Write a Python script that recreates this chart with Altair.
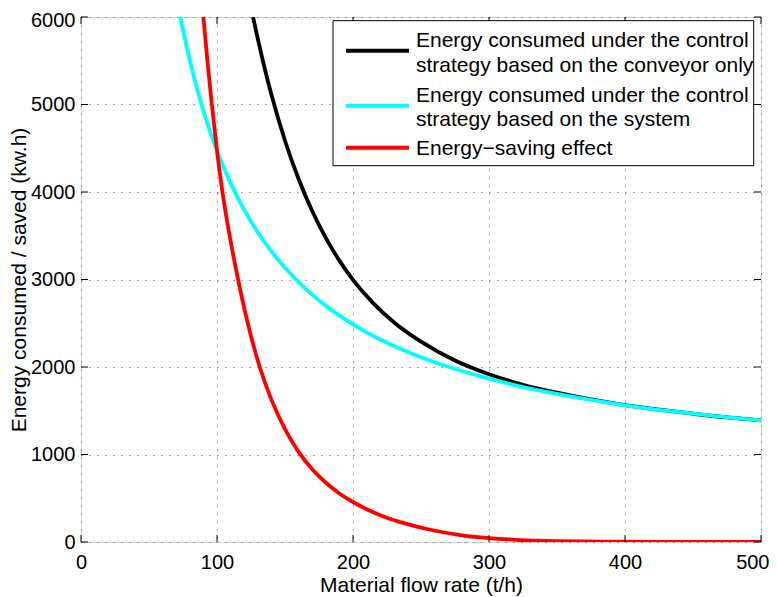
import altair as alt
import pandas as pd

# ---- data ----
x_ticks = [0, 100, 200, 300, 400, 500]
y_ticks = [0, 1000, 2000, 3000, 4000, 5000, 6000]

conv_x = [126.5, 130, 135, 140, 150, 160, 170, 180, 190, 200, 215, 230, 250,
          275, 300, 325, 350, 375, 400, 425, 450, 475, 500]
conv_y = [6000, 5750, 5417, 5113, 4586, 4149, 3783, 3475, 3216, 2996, 2727, 2512, 2290,
          2075, 1918, 1797, 1706, 1630, 1565, 1512, 1466, 1424, 1390]

sys_x = [73, 80, 90, 100, 110, 120, 130, 140, 150, 165, 180, 200, 225, 250,
         275, 300, 325, 350, 375, 400, 425, 450, 475, 500]
sys_y = [6000, 5504, 4926, 4470, 4101, 3795, 3539, 3321, 3133, 2896, 2701, 2488, 2277, 2112,
         1977, 1867, 1771, 1693, 1623, 1562, 1511, 1466, 1424, 1390]

save_x = [90, 93, 96, 100, 104, 110, 115.5, 122, 131.4, 140, 150, 160, 170, 180, 190, 200,
          210, 220, 240, 256, 280, 300, 320, 350, 400, 450, 500]
save_y = [6000, 5490, 5030, 4470, 4000, 3440, 3000, 2540, 2000, 1627, 1290, 1030, 831, 677, 555, 457,
          375, 307, 204, 143, 77, 45, 25, 10, 3, 1, 0]

legend_lines = [["Energy consumed under the control", "strategy based on the conveyor only"],
                ["Energy consumed under the control", "strategy based on the system"],
                ["Energy\u2212saving effect"]]
colors = ["#000000", "#00FFFF", "#FF0000"]

# ---- layout ----
W, H = 680, 525
FONT = "Liberation Sans"
FS = 20
FT = 21

xs = alt.Scale(domain=[0, 500], nice=False, zero=False)
ys = alt.Scale(domain=[0, 6000], nice=False, zero=False)

grid_kw = dict(grid=True, gridDash=[1, 7], gridColor="#444444", gridWidth=1,
               ticks=False, tickSize=0, domain=False, labelFlush=False,
               labelFont=FONT, labelFontSize=FS, labelColor="#000000",
               titleFont=FONT, titleFontSize=FT, titleColor="#000000", titleFontWeight="normal")

xaxis = alt.Axis(values=x_ticks, format="d", title="Material flow rate (t/h)",
                 labelBaseline="alphabetic", labelPadding=26,
                 labelAlign={"condition": {"test": "datum.value === 500", "value": "right"}, "value": "center"},
                 labelOffset={"condition": {"test": "datum.value === 500", "value": 8}, "value": 0},
                 titleBaseline="alphabetic", titleY=49, **grid_kw)
yaxis = alt.Axis(values=y_ticks, format="d", title="Energy consumed / saved (kw.h)",
                 labelPadding=6,
                 labelOffset={"condition": {"test": "datum.value === 6000", "value": 3}, "value": 0},
                 titleX=-62, titleY=H / 2, titleBaseline="middle",
                 titleAlign="center", titleAngle=270, **grid_kw)

X = alt.X("x:Q", scale=xs, axis=xaxis)
Y = alt.Y("y:Q", scale=ys, axis=yaxis)


def curve(xv, yv, color):
    df = pd.DataFrame({"x": xv, "y": yv})
    return alt.Chart(df).mark_line(color=color, strokeWidth=3.8, clip=True,
                                   interpolate="monotone").encode(x=X, y=Y)


curves = [curve(conv_x, conv_y, colors[0]),
          curve(sys_x, sys_y, colors[1]),
          curve(save_x, save_y, colors[2])]

xt = pd.DataFrame({"x": x_ticks})
yt = pd.DataFrame({"y": y_ticks})
TL = 7
ticks = [
    alt.Chart(xt).mark_rule(color="black", strokeWidth=1).encode(x=X, y=alt.value(H), y2=alt.value(H - TL)),
    alt.Chart(xt).mark_rule(color="black", strokeWidth=1).encode(x=X, y=alt.value(0), y2=alt.value(TL)),
    alt.Chart(yt).mark_rule(color="black", strokeWidth=1).encode(y=Y, x=alt.value(0), x2=alt.value(TL)),
    alt.Chart(yt).mark_rule(color="black", strokeWidth=1).encode(y=Y, x=alt.value(W - TL), x2=alt.value(W)),
]

one = pd.DataFrame({"k": [0]})
legend = [alt.Chart(one).mark_rect(fill="white", stroke="black", strokeWidth=1).encode(
    x=alt.value(252), x2=alt.value(672.7), y=alt.value(3.7), y2=alt.value(148.7))]

sym_y = [33.7, 88.7, 130.7]
text_y = [[30.4, 54.7], [84.7, 108.7], [138]]
for i in range(3):
    legend.append(alt.Chart(one).mark_rule(color=colors[i], strokeWidth=4).encode(
        x=alt.value(265), x2=alt.value(328), y=alt.value(sym_y[i])))
    for line, ty in zip(legend_lines[i], text_y[i]):
        legend.append(alt.Chart(one).mark_text(align="left", baseline="alphabetic", font=FONT,
                                              fontSize=FT, color="black").encode(
            x=alt.value(335), y=alt.value(ty), text=alt.value(line)))

chart = alt.layer(*curves, *ticks, *legend).properties(
    width=W, height=H,
    padding={"left": 73, "top": 9, "right": 8, "bottom": 55},
    autosize=alt.AutoSizeParams(type="none"),
).configure_view(stroke="black", strokeWidth=1).configure(background="white")

chart.save("out.html", embed_options={"renderer": "svg", "actions": False})
